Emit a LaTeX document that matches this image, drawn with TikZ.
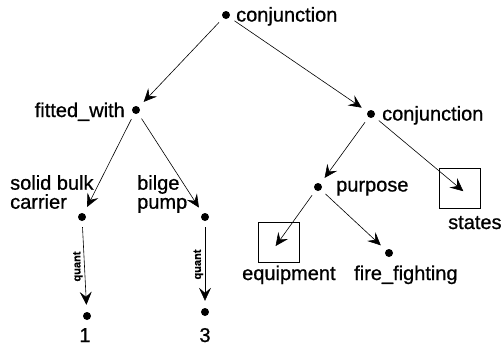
\documentclass[tikz,border=0pt]{standalone}
\usepackage{fontspec}
\setmainfont{Liberation Sans}[FakeBold=0.8]
\usetikzlibrary{arrows.meta}

\begin{document}
\begin{tikzpicture}[x=1pt,y=-1pt,
    dot/.style={circle,fill=black,inner sep=0pt,minimum size=8pt},
    box/.style={draw,line width=0.6pt,minimum width=41pt,minimum height=40pt,inner sep=0pt},
    lbl/.style={inner sep=0pt,font=\fontsize{20}{19}\selectfont},
    rel/.style={line width=0.6pt,-{Stealth[length=13pt,width=12pt,inset=5pt]},shorten <=6pt,shorten >=7pt},
    qlbl/.style={rotate=90,anchor=south,inner sep=1.5pt,font=\fontsize{11}{11}\selectfont\bfseries}]
    \useasboundingbox (0,0) rectangle (503,349);
    % concepts
    \node[dot] (conj) at (226,15) {};
    \node[dot] (fitted) at (136,110) {};
    \node[dot] (rconj) at (371,114) {};
    \node[dot] (carrier) at (82,217) {};
    \node[dot] (pump) at (205,217) {};
    \node[dot] (one) at (87,316) {};
    \node[dot] (three) at (205,312) {};
    \node[dot] (purpose) at (318,187) {};
    \node[dot] (fire) at (389,253) {};
    \node[box] (states) at (459.5,188) {};
    \node[box] (equip) at (278.5,242) {};
    % labels
    \node[lbl,anchor=base west] (conjlbl) at (236,21.5) {conjunction};
    \node[lbl,anchor=base east] (fittedlbl) at (125,117) {fitted\_with};
    \node[lbl,anchor=base west] (rconjlbl) at (382,120.5) {conjunction};
    \node[lbl,anchor=north west,align=left] (carrierlbl) at (10,175) {solid bulk\\carrier};
    \node[lbl,anchor=north west,align=left] (pumplbl) at (137,175) {bilge\\pump};
    \node[lbl,anchor=base] (onelbl) at (85,342) {1};
    \node[lbl,anchor=base] (threelbl) at (205,342) {3};
    \node[lbl,anchor=base west] (purposelbl) at (336,191.5) {purpose};
    \node[lbl,anchor=base west] (equiplbl) at (242,280) {equipment};
    \node[lbl,anchor=base west] (firelbl) at (354,280) {fire\_fighting};
    \node[lbl,anchor=base west] (stateslbl) at (448,229) {states};
    % relations
    \draw[rel] (conj) -- (fitted);
    \draw[rel] (conj) -- (rconj);
    \draw[rel] (fitted) -- (carrier);
    \draw[rel] (fitted) -- (pump);
    \draw[rel] (carrier) -- node[qlbl] (quanta) {quant} (one);
    \draw[rel] (pump) -- node[qlbl] (quantb) {quant} (three);
    \draw[rel] (rconj) -- (purpose);
    \draw[rel,shorten >=-5pt] (rconj) -- (states.center);
    \draw[rel,shorten >=-5pt] (purpose) -- (equip.center);
    \draw[rel] (purpose) -- (fire);
\end{tikzpicture}
\end{document}
